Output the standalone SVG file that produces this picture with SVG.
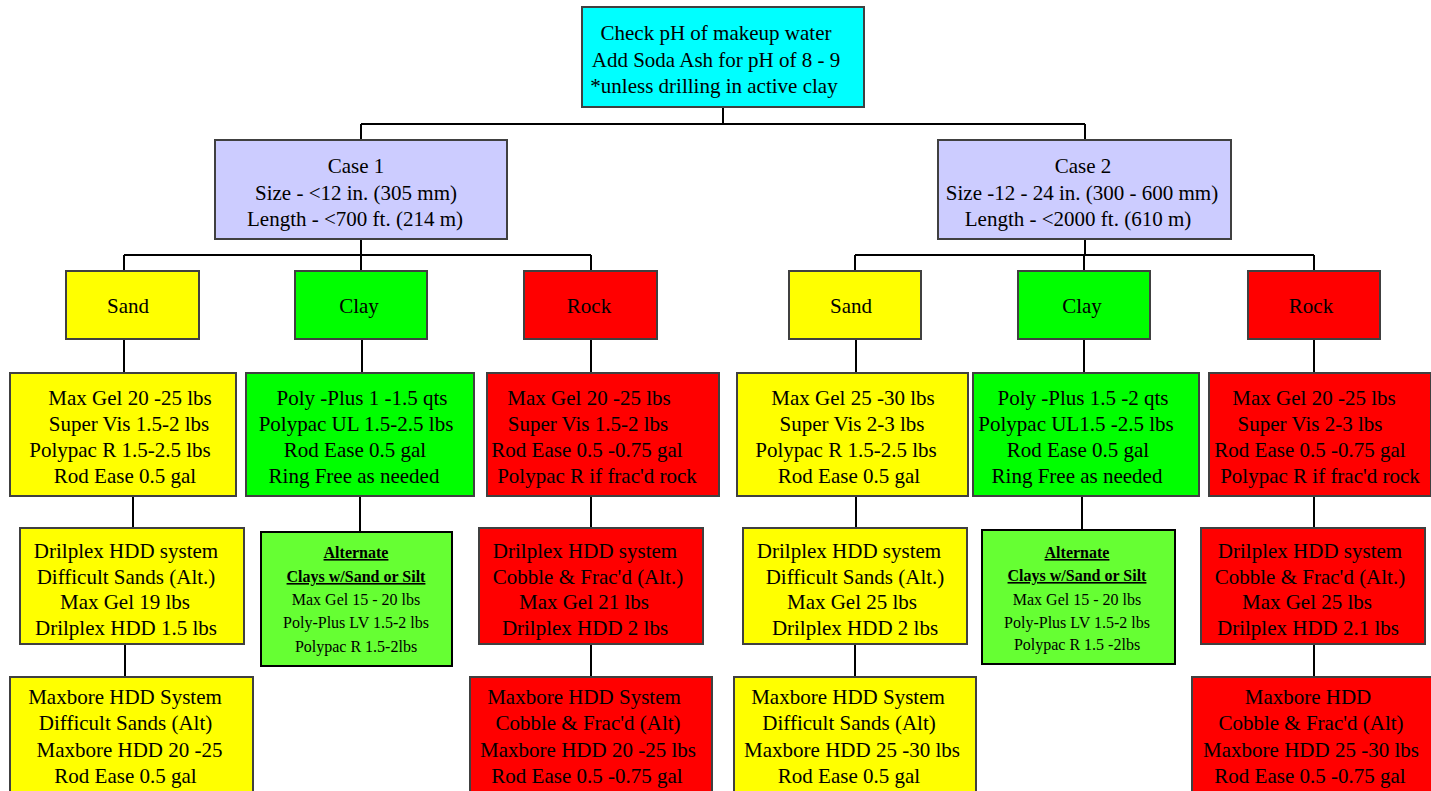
<svg xmlns="http://www.w3.org/2000/svg" width="1431" height="791" viewBox="0 0 1431 791">
<style>
.b{stroke:#404040;stroke-width:2}
.cy{fill:#00FFFF}.cs{fill:#CCCCFF}.ye{fill:#FFFF00}.gr{fill:#00FF00}.rd{fill:#FF0000}.al{fill:#66FF33}
text{font-family:"Liberation Serif","Times New Roman",serif;font-size:21px;fill:#000;text-anchor:middle}
.s{font-size:16px}
.h{font-size:16px;font-weight:bold;text-decoration:underline}
.c{fill:none;stroke:#000;stroke-width:2}
</style>
<rect width="1431" height="791" fill="#fff"/>
<g id="connectors">
<path class="c" d="M723 107V124M361 124H1085M361 124V140M1085 124V140"/>
<path class="c" d="M361 239V255M124 255H591M124 255V271M361 255V271M591 255V271"/>
<path class="c" d="M1085 239V255M855 255H1314M855 255V271M1084 255V271M1314 255V271"/>
<path class="c" d="M124 339V373M362 339V373M591 339V373M856 339V373M1084 339V373M1314 339V373"/>
<path class="c" d="M133 496V528M360 496V532M591 496V528M856 496V528M1082 496V530M1314 496V528"/>
<path class="c" d="M125 644V677M591 644V677M855 644V677M1314 644V677"/>
</g>
<g id="top">
<rect class="b cy" x="582" y="7" width="282" height="100"/>
<text x="716" y="40">Check pH of makeup water</text>
<text x="716" y="66.5">Add Soda Ash for pH of 8 - 9</text>
<text x="714" y="93">*unless drilling in active clay</text>
</g>
<g id="case1">
<rect class="b cs" x="215" y="140" width="292" height="99"/>
<text x="356" y="173">Case 1</text>
<text x="356" y="199.5">Size - &lt;12 in. (305 mm)</text>
<text x="355" y="226">Length - &lt;700 ft. (214 m)</text>
</g>
<g id="case2">
<rect class="b cs" x="938" y="140" width="293" height="99"/>
<text x="1083" y="173">Case 2</text>
<text x="1082" y="199.5">Size -12 - 24 in. (300 - 600 mm)</text>
<text x="1078" y="226">Length - &lt;2000 ft. (610 m)</text>
</g>
<g id="sand1"><rect class="b ye" x="66" y="271" width="133" height="68"/><text x="128" y="313">Sand</text></g>
<g id="clay1"><rect class="b gr" x="295" y="271" width="132" height="68"/><text x="359" y="313">Clay</text></g>
<g id="rock1"><rect class="b rd" x="524" y="271" width="133" height="68"/><text x="589" y="313">Rock</text></g>
<g id="sand2"><rect class="b ye" x="789" y="271" width="132" height="68"/><text x="851" y="313">Sand</text></g>
<g id="clay2"><rect class="b gr" x="1018" y="271" width="132" height="68"/><text x="1082" y="313">Clay</text></g>
<g id="rock2"><rect class="b rd" x="1248" y="271" width="132" height="68"/><text x="1311" y="313">Rock</text></g>
<g id="sand1-mix">
<rect class="b ye" x="10" y="373" width="226" height="123"/>
<text x="130" y="405">Max Gel 20 -25 lbs</text>
<text x="129" y="431">Super Vis 1.5-2 lbs</text>
<text x="120" y="457">Polypac R 1.5-2.5 lbs</text>
<text x="125" y="483">Rod Ease 0.5 gal</text>
</g>
<g id="clay1-mix">
<rect class="b gr" x="246" y="373" width="228" height="123"/>
<text x="362" y="405">Poly -Plus 1 -1.5 qts</text>
<text x="356" y="431">Polypac UL 1.5-2.5 lbs</text>
<text x="355" y="457">Rod Ease 0.5 gal</text>
<text x="354" y="483">Ring Free as needed</text>
</g>
<g id="rock1-mix">
<rect class="b rd" x="487" y="373" width="232" height="123"/>
<text x="589" y="405">Max Gel 20 -25 lbs</text>
<text x="588" y="431">Super Vis 1.5-2 lbs</text>
<text x="587" y="457">Rod Ease 0.5 -0.75 gal</text>
<text x="597" y="483">Polypac R if frac'd rock</text>
</g>
<g id="sand2-mix">
<rect class="b ye" x="737" y="373" width="231" height="123"/>
<text x="853" y="405">Max Gel 25 -30 lbs</text>
<text x="852" y="431">Super Vis 2-3 lbs</text>
<text x="846" y="457">Polypac R 1.5-2.5 lbs</text>
<text x="849" y="483">Rod Ease 0.5 gal</text>
</g>
<g id="clay2-mix">
<rect class="b gr" x="973" y="373" width="226" height="123"/>
<text x="1083" y="405">Poly -Plus 1.5 -2 qts</text>
<text x="1076" y="431">Polypac UL1.5 -2.5 lbs</text>
<text x="1078" y="457">Rod Ease 0.5 gal</text>
<text x="1077" y="483">Ring Free as needed</text>
</g>
<g id="rock2-mix">
<rect class="b rd" x="1209" y="373" width="222" height="123"/>
<text x="1314" y="405">Max Gel 20 -25 lbs</text>
<text x="1310" y="431">Super Vis 2-3 lbs</text>
<text x="1310" y="457">Rod Ease 0.5 -0.75 gal</text>
<text x="1320" y="483">Polypac R if frac'd rock</text>
</g>
<g id="sand1-drilplex">
<rect class="b ye" x="20" y="528" width="224" height="116"/>
<text x="126" y="558">Drilplex HDD system</text>
<text x="126" y="584">Difficult Sands (Alt.)</text>
<text x="125" y="609">Max Gel 19 lbs</text>
<text x="126" y="635">Drilplex HDD 1.5 lbs</text>
</g>
<g id="clay1-alt">
<rect class="al" x="261" y="532" width="191" height="134" stroke="#000" stroke-width="2"/>
<text class="h" x="356" y="558">Alternate</text>
<text class="h" x="356" y="582">Clays w/Sand or Silt</text>
<text class="s" x="356" y="605">Max Gel 15 - 20 lbs</text>
<text class="s" x="356" y="628">Poly-Plus LV 1.5-2 lbs</text>
<text class="s" x="356" y="652">Polypac R 1.5-2lbs</text>
</g>
<g id="rock1-drilplex">
<rect class="b rd" x="479" y="528" width="224" height="116"/>
<text x="585" y="558">Drilplex HDD system</text>
<text x="588" y="584">Cobble &amp; Frac'd (Alt.)</text>
<text x="584" y="609">Max Gel 21 lbs</text>
<text x="585" y="635">Drilplex HDD 2 lbs</text>
</g>
<g id="sand2-drilplex">
<rect class="b ye" x="743" y="528" width="224" height="116"/>
<text x="849" y="558">Drilplex HDD system</text>
<text x="855" y="584">Difficult Sands (Alt.)</text>
<text x="852" y="609">Max Gel 25 lbs</text>
<text x="855" y="635">Drilplex HDD 2 lbs</text>
</g>
<g id="clay2-alt">
<rect class="al" x="982" y="530" width="193" height="134" stroke="#000" stroke-width="2"/>
<text class="h" x="1077" y="558">Alternate</text>
<text class="h" x="1077" y="581">Clays w/Sand or Silt</text>
<text class="s" x="1077" y="605">Max Gel 15 - 20 lbs</text>
<text class="s" x="1077" y="628">Poly-Plus LV 1.5-2 lbs</text>
<text class="s" x="1077" y="650">Polypac R 1.5 -2lbs</text>
</g>
<g id="rock2-drilplex">
<rect class="b rd" x="1201" y="528" width="224" height="116"/>
<text x="1310" y="558">Drilplex HDD system</text>
<text x="1310" y="584">Cobble &amp; Frac'd (Alt.)</text>
<text x="1307" y="609">Max Gel 25 lbs</text>
<text x="1308" y="635">Drilplex HDD 2.1 lbs</text>
</g>
<g id="sand1-maxbore">
<rect class="b ye" x="10" y="677" width="243" height="130"/>
<text x="125" y="704">Maxbore HDD System</text>
<text x="125.5" y="730">Difficult Sands (Alt)</text>
<text x="129.5" y="757">Maxbore HDD 20 -25</text>
<text x="125.5" y="783">Rod Ease 0.5 gal</text>
</g>
<g id="rock1-maxbore">
<rect class="b rd" x="470" y="677" width="242" height="130"/>
<text x="584" y="704">Maxbore HDD System</text>
<text x="588" y="730">Cobble &amp; Frac'd (Alt)</text>
<text x="588" y="757">Maxbore HDD 20 -25 lbs</text>
<text x="587" y="783">Rod Ease 0.5 -0.75 gal</text>
</g>
<g id="sand2-maxbore">
<rect class="b ye" x="734" y="677" width="242" height="130"/>
<text x="848" y="704">Maxbore HDD System</text>
<text x="849" y="730">Difficult Sands (Alt)</text>
<text x="852" y="757">Maxbore HDD 25 -30 lbs</text>
<text x="849" y="783">Rod Ease 0.5 gal</text>
</g>
<g id="rock2-maxbore">
<rect class="b rd" x="1192" y="677" width="245" height="130"/>
<text x="1308" y="704">Maxbore HDD</text>
<text x="1311" y="730">Cobble &amp; Frac'd (Alt)</text>
<text x="1311" y="757">Maxbore HDD 25 -30 lbs</text>
<text x="1310" y="783">Rod Ease 0.5 -0.75 gal</text>
</g>
</svg>
